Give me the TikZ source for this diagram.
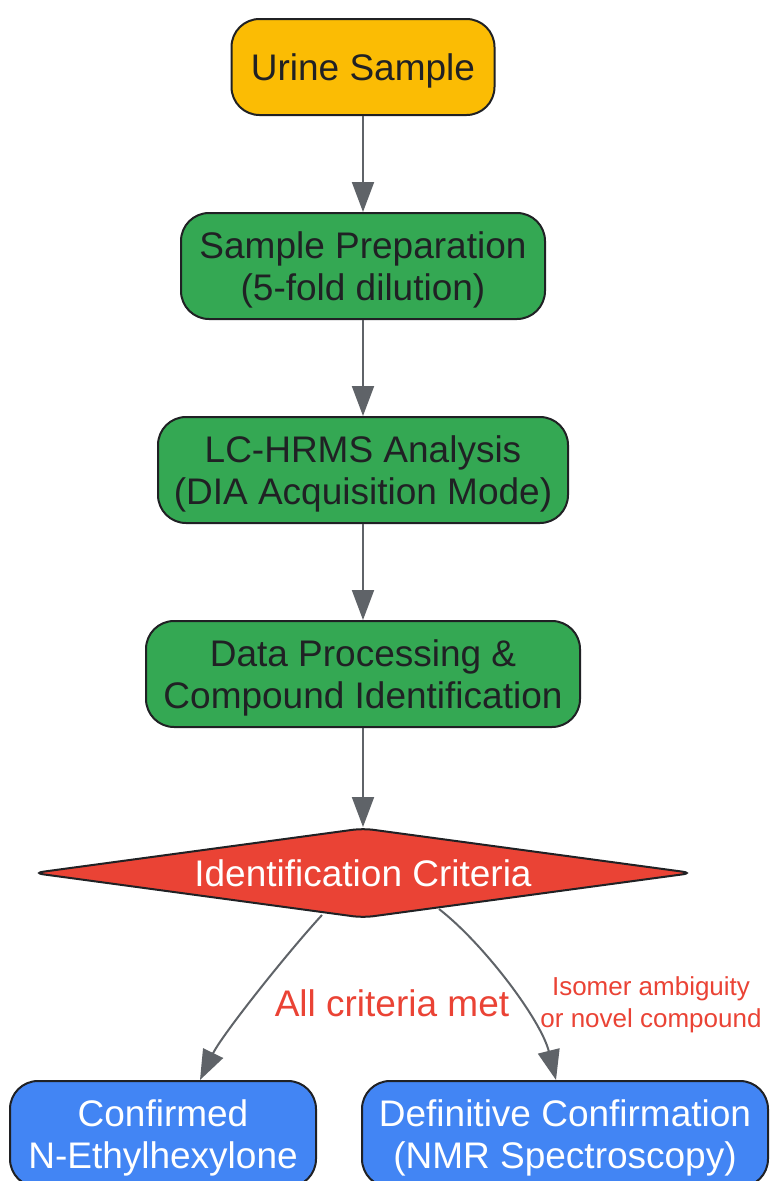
\documentclass[tikz,border=0pt]{standalone}
\usepackage{fontspec}
\setmainfont{Liberation Sans}
\usetikzlibrary{shapes.geometric,arrows.meta}
\definecolor{cyellow}{HTML}{FBBC04}
\definecolor{cgreen}{HTML}{34A853}
\definecolor{cred}{HTML}{EA4335}
\definecolor{cblue}{HTML}{4285F4}
\definecolor{cborder}{HTML}{202124}
\definecolor{ctext}{HTML}{202124}
\definecolor{cgrey}{HTML}{5F6368}
\begin{document}
\begin{tikzpicture}[x=1pt,y=-1pt,
  box/.style={draw=cborder, line width=2pt, rounded corners=28pt, align=center,
    font=\fontsize{37}{42}\selectfont, text=ctext, minimum height=106pt, inner sep=0pt,
    text depth=-3pt},
  arr/.style={draw=cgrey, line width=2pt, -{Triangle[length=30pt,width=22pt]}},
  lbl/.style={text=cred, align=center, inner sep=0pt}]
\useasboundingbox (0,0) rectangle (769,1181);
\node[box, fill=cyellow, minimum width=263pt, minimum height=96pt] (urine) at (363,67) {Urine Sample};
\node[box, fill=cgreen, minimum width=364pt] (prep) at (363,266) {Sample Preparation\\(5-fold dilution)};
\node[box, fill=cgreen, minimum width=410pt] (lc) at (363,470) {LC-HRMS Analysis\\(DIA Acquisition Mode)};
\node[box, fill=cgreen, minimum width=434pt] (data) at (363,674) {Data Processing \&\\Compound Identification};
\node[diamond, draw=cborder, line width=2pt, fill=cred, text=white, aspect=7.33,
  minimum width=660pt, minimum height=90pt, inner sep=0pt, rounded corners=10pt,
  font=\fontsize{37}{42}\selectfont] (dia) at (363,873) {Identification Criteria};
\node[box, fill=cblue, text=white, minimum width=306pt] (conf) at (163,1134) {Confirmed\\N-Ethylhexylone};
\node[box, fill=cblue, text=white, minimum width=406pt] (def) at (565,1134) {Definitive Confirmation\\(NMR Spectroscopy)};
\draw[arr] (urine) -- (prep);
\draw[arr] (prep) -- (lc);
\draw[arr] (lc) -- (data);
\draw[arr] (data) -- (dia);
\draw[arr] ([xshift=-41pt,yshift=4pt]dia.south) .. controls +(-35,38) and +(22,-45) .. ([xshift=37pt]conf.north);
\draw[arr] ([xshift=76pt,yshift=10pt]dia.south) .. controls +(45,35) and +(-15,-60) .. ([xshift=-9pt]def.north);
\node[lbl, font=\fontsize{37}{42}\selectfont] (l1) at (392,1003) {All criteria met};
\node[lbl, font=\fontsize{26}{32}\selectfont] (l2) at (651,1005) {Isomer ambiguity\\or novel compound};
\end{tikzpicture}
\end{document}
